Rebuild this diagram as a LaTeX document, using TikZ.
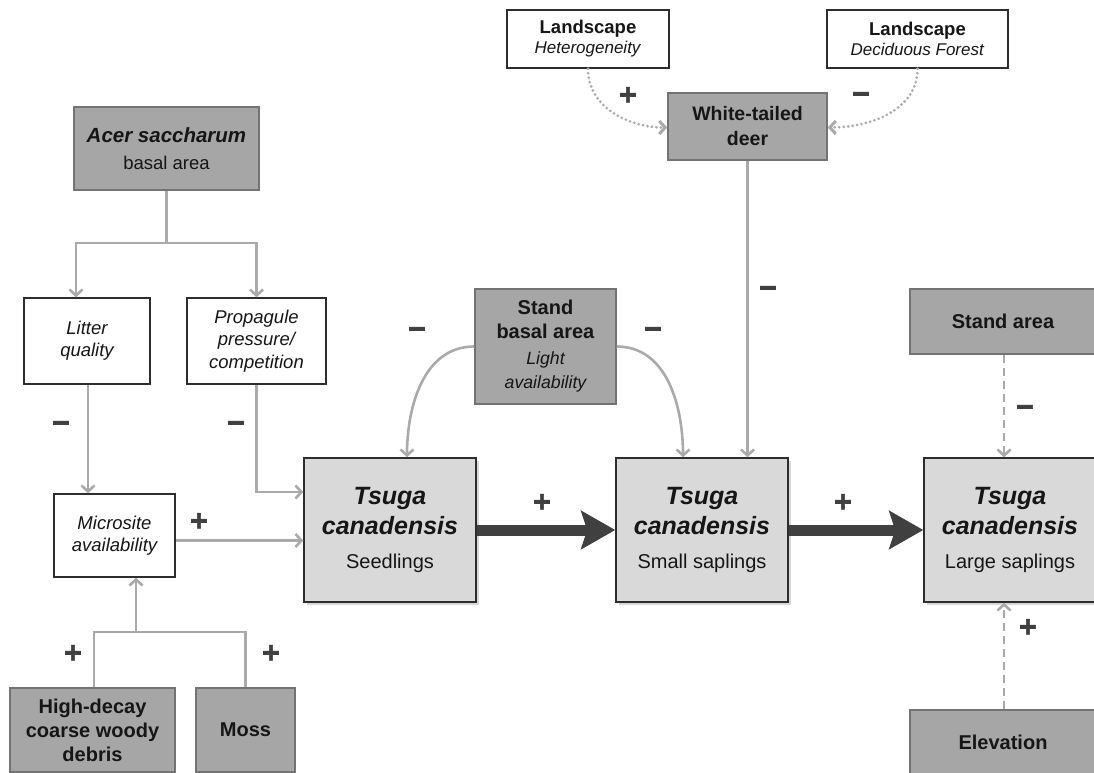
\documentclass[tikz,border=0pt]{standalone}
\usepackage{fontspec}
\setmainfont{Liberation Sans}
\newfontfamily\signfont[FakeBold=2]{Liberation Sans Bold}
\usetikzlibrary{arrows.meta,shadows}
\definecolor{dkfill}{RGB}{166,166,166}
\definecolor{ltfill}{RGB}{217,217,217}
\definecolor{conn}{RGB}{170,170,170}
\definecolor{bord}{RGB}{45,45,45}
\definecolor{gbord}{RGB}{115,115,115}
\definecolor{sgncol}{RGB}{64,64,64}
\definecolor{txt}{RGB}{22,22,22}
\begin{document}
\begin{tikzpicture}[x=1pt,y=-1pt,
 boxbase/.style={rectangle, inner sep=0pt, align=center, text=txt, line width=1.5pt},
 wbox/.style={boxbase, draw=bord, fill=white},
 gbox/.style={boxbase, draw=gbord, fill=dkfill},
 tbox/.style={boxbase, draw=bord, fill=ltfill, minimum width=172pt, minimum height=144pt,
   font=\fontsize{25}{30}\selectfont,
   drop shadow={shadow xshift=3pt, shadow yshift=-3pt, opacity=0.3}},
 lnk/.style={draw=conn, line width=2.6pt, -{Straight Barb[length=6pt,width=13pt]}},
 pline/.style={draw=conn, line width=2.6pt},
 dotlnk/.style={lnk, line width=3pt, dash pattern=on 0pt off 4.5pt, line cap=round},
 dashlnk/.style={lnk, dash pattern=on 8pt off 5pt},
 bigarrow/.style={draw=sgncol, line width=11pt, -{Stealth[length=34pt,width=38pt,inset=6pt]}},
 sgn/.style={text=sgncol, font=\fontsize{30}{30}\signfont, inner sep=0pt},
]
\fill[white] (0,0) rectangle (1094,773);
\useasboundingbox (0,0) rectangle (1094,773);

% top
\node[wbox, minimum width=162pt, minimum height=58pt, font=\fontsize{17}{20}\selectfont] (het) at (588,39)
  {{\fontsize{18.5}{20}\selectfont\bfseries Landscape}\\\textit{Heterogeneity}};
\node[wbox, minimum width=181pt, minimum height=58pt, font=\fontsize{17}{20}\selectfont] (dec) at (917.5,39)
  {{\fontsize{18.5}{20}\selectfont\bfseries Landscape}\\\textit{Deciduous Forest}};
\node[gbox, minimum width=159pt, minimum height=67pt, font=\fontsize{19.5}{25}\selectfont\bfseries] (deer) at (747.5,126.5)
  {White-tailed\\deer};

% left column
\node[gbox, minimum width=185pt, minimum height=83pt, font=\fontsize{20.5}{27}\selectfont] (acer) at (166.5,148.5)
  {\textbf{\textit{Acer saccharum}}\\{\fontsize{18.5}{27}\selectfont basal area}};
\node[wbox, minimum width=126pt, minimum height=86pt, font=\fontsize{18.5}{22}\selectfont\itshape] (litter) at (87,341)
  {Litter\\quality};
\node[wbox, minimum width=139pt, minimum height=86pt, font=\fontsize{18.5}{22.5}\selectfont\itshape] (prop) at (256.5,341)
  {Propagule\\pressure/\\competition};
\node[wbox, minimum width=121pt, minimum height=83pt, font=\fontsize{18.5}{21.5}\selectfont\itshape] (micro) at (114.5,535.5)
  {Microsite\\availability};
\node[gbox, minimum width=165pt, minimum height=84pt, font=\fontsize{20}{24}\selectfont\bfseries] (hd) at (92.5,730)
  {High-decay\\coarse woody\\debris};
\node[gbox, minimum width=99pt, minimum height=84pt, font=\fontsize{20}{24}\selectfont\bfseries] (moss) at (245.5,730)
  {Moss};

% middle
\node[gbox, minimum width=141pt, minimum height=115pt, font=\fontsize{20}{24}\selectfont] (stand) at (545.5,346.5)
  {\textbf{Stand}\\\textbf{basal area}\\[2pt]{\fontsize{17.7}{24}\selectfont\itshape Light}\\{\fontsize{17.7}{24}\selectfont\itshape availability}};

\node[tbox] (seed) at (390,530)
  {\textbf{\textit{Tsuga}}\\\textbf{\textit{canadensis}}\\[4pt]{\fontsize{20}{24}\selectfont Seedlings}};
\node[tbox] (ssap) at (702,530)
  {\textbf{\textit{Tsuga}}\\\textbf{\textit{canadensis}}\\[4pt]{\fontsize{20}{24}\selectfont Small saplings}};
\node[tbox] (lsap) at (1010,530)
  {\textbf{\textit{Tsuga}}\\\textbf{\textit{canadensis}}\\[4pt]{\fontsize{20}{24}\selectfont Large saplings}};

% right
\node[gbox, minimum width=186pt, minimum height=65pt, font=\fontsize{20}{24}\selectfont\bfseries] (sarea) at (1003,321.5)
  {Stand area};
\node[gbox, minimum width=186pt, minimum height=64pt, font=\fontsize{20}{24}\selectfont\bfseries] (elev) at (1003,742)
  {Elevation};

% connectors
\draw[dotlnk] (het.south) to[out=-90,in=180] ([yshift=-1pt]deer.west);
\draw[dotlnk] (dec.south) to[out=-90,in=0] ([yshift=-1pt]deer.east);
\draw[lnk] (deer.south) -- (deer.south |- ssap.north);

\coordinate (ajoint) at (166.5,243);
\draw[pline] (acer.south) -- (ajoint);
\draw[lnk] (ajoint) -| ([xshift=-11pt]litter.north);
\draw[lnk] (ajoint) -| (prop.north);
\draw[lnk] ([xshift=1pt]litter.south) -- ([xshift=1pt]litter.south |- micro.north);
\draw[lnk] (prop.south) |- ([yshift=38pt]seed.west);
\draw[lnk] ([yshift=-5pt]micro.east) -- ([yshift=-5pt]micro.east -| seed.west);

\coordinate (bj) at (136,632);
\draw[pline] ([xshift=1.5pt]hd.north) |- (moss.north |- bj) -- (moss.north);
\draw[lnk] (bj) -- (bj |- micro.south);

\draw[lnk] (stand.west) to[out=180,in=90] ([xshift=17pt]seed.north);
\draw[lnk] (stand.east) to[out=0,in=90] ([xshift=-19pt]ssap.north);

\draw[bigarrow] (seed.east) -- (ssap.west);
\draw[bigarrow] (ssap.east) -- (lsap.west);

\draw[dashlnk] ([xshift=1pt]sarea.south) -- ([xshift=1pt]sarea.south |- lsap.north);
\draw[dashlnk] ([xshift=1pt]elev.north) -- ([xshift=1pt]elev.north |- lsap.south);

% signs
\node[sgn] (s1) at (628,96) {+};
\node[sgn] (s2) at (861,98) {−};
\node[sgn] (s3) at (768,292) {−};
\node[sgn] (s4) at (417,333) {−};
\node[sgn] (s5) at (653,333) {−};
\node[sgn] (s6) at (61,427) {−};
\node[sgn] (s7) at (236,427) {−};
\node[sgn] (s8) at (199,522) {+};
\node[sgn] (s9) at (73,654) {+};
\node[sgn] (s10) at (271,654) {+};
\node[sgn] (s11) at (542,503) {+};
\node[sgn] (s12) at (843,503) {+};
\node[sgn] (s13) at (1025,411) {−};
\node[sgn] (s14) at (1028,628) {+};
\end{tikzpicture}
\end{document}
